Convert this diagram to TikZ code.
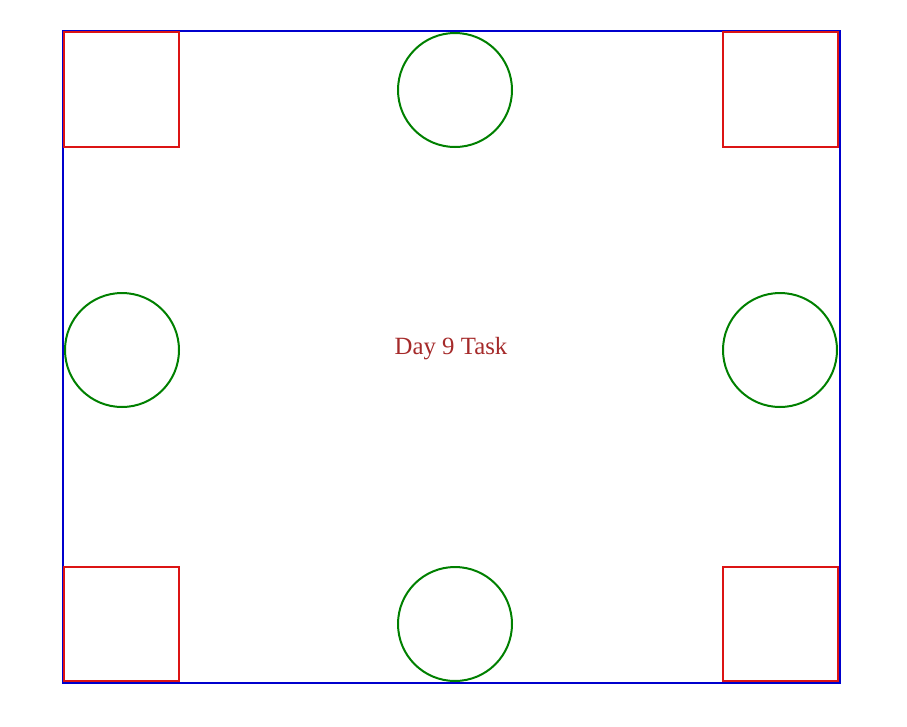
\documentclass[tikz,border=0pt]{standalone}
\usepackage{fontspec}
\setmainfont{Liberation Serif}
\definecolor{frameblue}{RGB}{0,0,205}
\definecolor{boxred}{RGB}{220,20,20}
\definecolor{ringgreen}{RGB}{0,128,0}
\definecolor{textbrown}{RGB}{165,42,42}
\begin{document}
\begin{tikzpicture}[x=0.75pt,y=-0.75pt,
  frame/.style={draw=frameblue,line width=1.5pt},
  corner/.style={draw=boxred,line width=1.5pt},
  ring/.style={draw=ringgreen,line width=1.5pt},
  label/.style={text=textbrown,font=\fontsize{18.6}{22}\selectfont,inner sep=0pt}]
\useasboundingbox (0,0) rectangle (907,726);
\draw[frame] (63,31) rectangle (840,683);
\draw[corner] (64,32) rectangle (179,147);
\draw[corner] (723,32) rectangle (838,147);
\draw[corner] (64,567) rectangle (179,681);
\draw[corner] (723,567) rectangle (838,681);
\draw[ring] (455,90) circle[radius=57];
\draw[ring] (122,350) circle[radius=57];
\draw[ring] (780,350) circle[radius=57];
\draw[ring] (455,624) circle[radius=57];
\node[label,anchor=base] (title) at (451,354) {Day 9 Task};
\end{tikzpicture}
\end{document}
